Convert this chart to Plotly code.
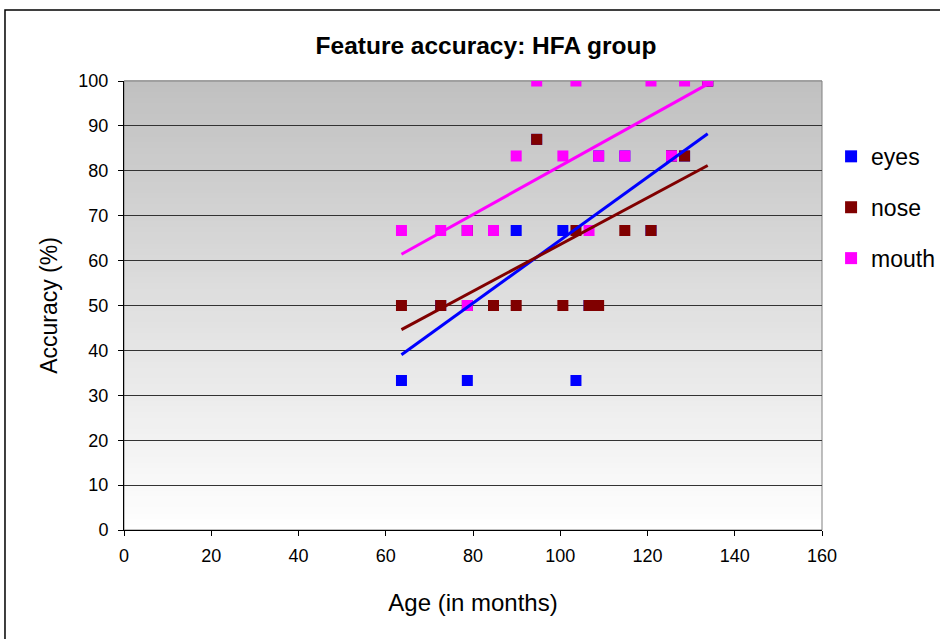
import numpy as np
import plotly.graph_objects as go

# Age of each child (months) and accuracy per facial feature (%)
ages = [63.6, 72.6, 78.7, 78.7, 84.7, 89.9, 94.6, 100.6, 103.6, 106.6,
        108.8, 114.8, 120.8, 125.5, 128.5, 133.8]
eyes = [33.3, 50, 33.3, 66.7, 50, 66.7, 87, 66.7, 33.3, 50,
        83.3, 83.3, 66.7, 83.3, 83.3, 100]
nose = [50, 50, 50, 66.7, 50, 50, 87, 50, 66.7, 50,
        50, 66.7, 66.7, 83.3, 83.3, 100]
mouth = [66.7, 66.7, 66.7, 50, 66.7, 83.3, 100, 83.3, 100, 66.7,
         83.3, 83.3, 100, 83.3, 100, 100]

series_names = ["eyes", "nose", "mouth"]
series_vals = [eyes, nose, mouth]
series_colors = ["#0000FF", "#800000", "#FF00FF"]

x_ticks = [0, 20, 40, 60, 80, 100, 120, 140, 160]
y_ticks = [0, 10, 20, 30, 40, 50, 60, 70, 80, 90, 100]

FONT = "Liberation Sans, Arial, sans-serif"

fig = go.Figure()

# Scatter points
for name, vals, col in zip(series_names, series_vals, series_colors):
    fig.add_trace(go.Scatter(
        x=ages, y=vals, mode="markers", name=name,
        legendgroup=name,
        marker=dict(symbol="square", size=11, color=col,
                    line=dict(width=0)),
    ))

# Linear trendlines, fitted from each series
x_lo, x_hi = min(ages), max(ages)
for name, vals, col in zip(series_names, series_vals, series_colors):
    slope, icpt = np.polyfit(ages, vals, 1)
    fig.add_trace(go.Scatter(
        x=[x_lo, x_hi], y=[slope * x_lo + icpt, slope * x_hi + icpt],
        mode="lines", line=dict(color=col, width=3),
        showlegend=False, hoverinfo="skip",
    ))

# Vertical grey gradient behind the plot area
shapes = []
n_bands = 80
top_c, bot_c = 192, 255
for i in range(n_bands):
    f0 = i / n_bands
    f1 = (i + 1) / n_bands
    c = int(round(bot_c + (top_c - bot_c) * (f0 + f1) / 2))
    shapes.append(dict(
        type="rect", xref="paper", yref="paper",
        x0=0, x1=1, y0=f0, y1=f1 + 0.002,
        fillcolor=f"rgb({c},{c},{c})", line=dict(width=0), layer="below",
    ))
# Plot-area frame
shapes.append(dict(type="rect", xref="paper", yref="paper", x0=0, x1=1,
                   y0=0, y1=1, line=dict(color="#808080", width=1),
                   fillcolor="rgba(0,0,0,0)", layer="below"))
# Outer chart border
shapes.append(dict(type="rect", xref="paper", yref="paper",
                   x0=-0.1705, x1=1.18, y0=-0.26, y1=1.158,
                   line=dict(color="#000000", width=1.5),
                   fillcolor="rgba(0,0,0,0)", layer="above"))

fig.update_layout(
    width=940, height=639,
    margin=dict(l=124, r=118, t=81, b=109, autoexpand=False),
    paper_bgcolor="white",
    plot_bgcolor="rgba(0,0,0,0)",
    font=dict(family=FONT, color="black", size=18),
    title=dict(text="<b>Feature accuracy: HFA group</b>",
               x=0.517, xref="container", xanchor="center",
               y=1 - 45 / 639, yref="container", yanchor="middle",
               font=dict(size=24.5, family=FONT, color="black")),
    shapes=shapes,
    showlegend=True,
    legend=dict(x=1.013, xanchor="left", y=0.88, yanchor="top",
                font=dict(size=23, family=FONT),
                bgcolor="rgba(0,0,0,0)", tracegroupgap=18,
                itemsizing="constant"),
    xaxis=dict(range=[0, 160], tickvals=x_ticks, ticks="outside",
               ticklen=5, tickcolor="black", showline=True,
               linecolor="black", linewidth=1, showgrid=False,
               zeroline=False, tickfont=dict(size=18),
               ticklabelstandoff=4,
               title=dict(text="Age (in months)", font=dict(size=24),
                          standoff=29)),
    yaxis=dict(range=[0, 100], tickvals=y_ticks, ticks="outside",
               ticklen=5, tickcolor="black", showline=True,
               linecolor="black", linewidth=1, showgrid=True,
               gridcolor="#333333", gridwidth=1, zeroline=False,
               tickfont=dict(size=18), ticklabelstandoff=6,
               title=dict(text="Accuracy (%)", font=dict(size=23),
                          standoff=14)),
)

fig.write_html("out.html")
